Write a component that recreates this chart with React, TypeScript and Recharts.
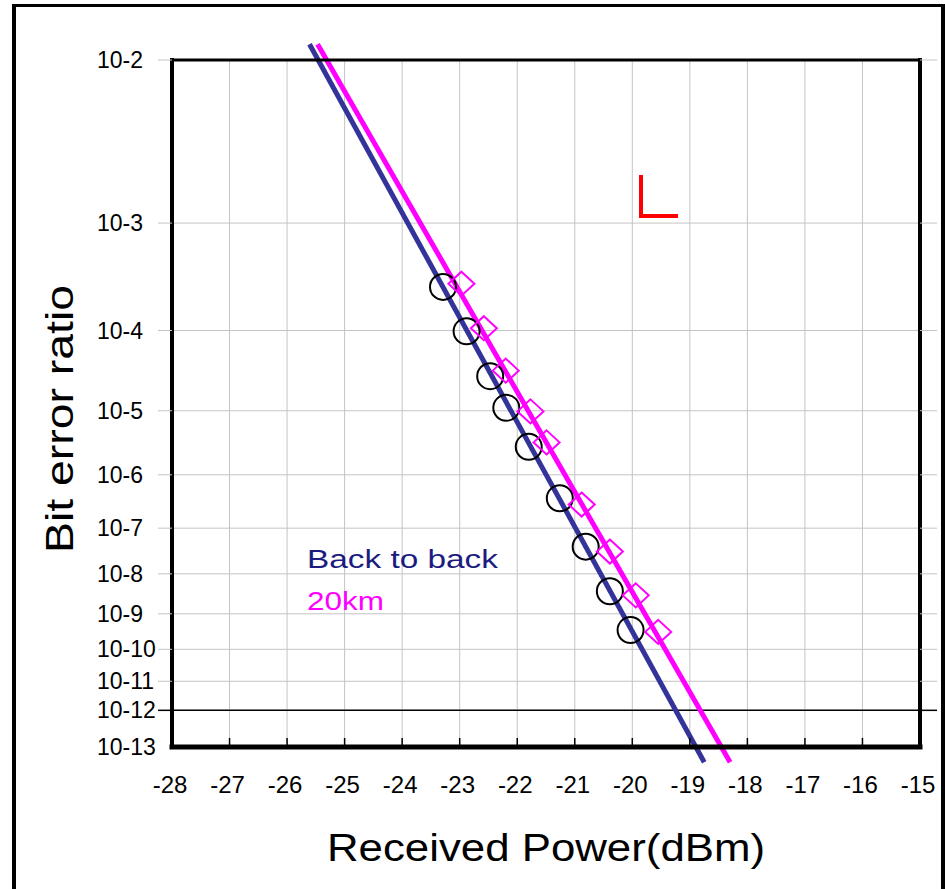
import React from 'react';
import { ComposedChart, Line, Scatter, XAxis, YAxis, CartesianGrid, ReferenceLine, Legend } from 'recharts';

// measured points: received power (dBm) and bit error ratio
const B2B_POWER = [-23.29, -22.88, -22.47, -22.19, -21.8, -21.26, -20.81, -20.39, -20.03];
const B2B_BER = [2.8e-4, 9.8e-5, 2.9e-5, 1.1e-5, 2.9e-6, 3.8e-7, 4.1e-8, 3.8e-9, 3.6e-10];
const KM20_POWER = [-22.97, -22.58, -22.2, -21.77, -21.49, -20.88, -20.39, -19.94, -19.55];
const KM20_BER = [3.0e-4, 1.06e-4, 3.4e-5, 9.8e-6, 3.4e-6, 2.9e-7, 3.2e-8, 3.0e-9, 3.2e-10];

// fitted lines (end points)
const B2B_FIT_POWER = [-25.61, -18.75];
const KM20_FIT_POWER = [-25.47, -18.3];
const FIT_BER = [1.18e-2, 9.3e-15];

const SERIES_NAMES = ['Back to back', '20km'];

const X_TICKS = [-28, -27, -26, -25, -24, -23, -22, -21, -20, -19, -18, -17, -16, -15];
const Y_TICK_EXP = [2, 3, 4, 5, 6, 7, 8, 9, 10, 11, 12];
const Y_BOTTOM_EXP = 13.4; // axis ends a bit below 10-13
const THRESHOLD_EXP = 12;

const FONT = '"Liberation Sans", Arial, Helvetica, sans-serif';
const GRID = '#c4c4c4';

// BER axis: -log10(-log10(BER) - 0.5) gives the paper's spacing
const toAxis = (ber: number) => -Math.log10(-Math.log10(ber) - 0.5);
const expOf = (v: number) => Math.round(10 ** -v + 0.5);

const Y_TICKS = [...Y_TICK_EXP, Y_BOTTOM_EXP].map((n) => toAxis(10 ** -n));
const Y_DOMAIN = [toAxis(10 ** -Y_BOTTOM_EXP), toAxis(10 ** -Y_TICK_EXP[0])];

const toPoints = (power: number[], ber: number[]) => power.map((p, i) => ({ p, v: toAxis(ber[i]) }));

const b2bPoints = toPoints(B2B_POWER, B2B_BER);
const km20Points = toPoints(KM20_POWER, KM20_BER);
const b2bFit = toPoints(B2B_FIT_POWER, FIT_BER);
const km20Fit = toPoints(KM20_FIT_POWER, FIT_BER);

const isBottom = (v: number) => Math.abs(v - Y_DOMAIN[0]) < 1e-9;

const YTick = (props: any) => {
  const { x, y, payload } = props;
  const n = expOf(payload.value);
  const dark = n === THRESHOLD_EXP;
  return (
    <g>
      {!isBottom(payload.value) && (
        <line x1={x} x2={x + 14} y1={y} y2={y} stroke={dark ? '#000' : GRID} strokeWidth={dark ? 1.5 : 1} />
      )}
      <text x={x - 61} y={y} dominantBaseline="central" fontSize={23} fontFamily={FONT} fill="#000">
        {`10-${n}`}
      </text>
    </g>
  );
};

const RightTick = (props: any) => {
  const { x, y, payload } = props;
  if (isBottom(payload.value)) return null;
  const dark = expOf(payload.value) === THRESHOLD_EXP;
  return <line x1={x - 17} x2={x} y1={y} y2={y} stroke={dark ? '#000' : GRID} strokeWidth={dark ? 1.5 : 1} />;
};

const XTick = (props: any) => {
  const { x, y, payload } = props;
  return (
    <g>
      <line x1={x} x2={x} y1={y} y2={y - 9} stroke="#000" strokeWidth={1.5} />
      <text x={x - 2} y={y + 37} textAnchor="middle" dominantBaseline="central" fontSize={24} fontFamily={FONT} fill="#000">
        {payload.value}
      </text>
    </g>
  );
};

const XTitle = (props: any) => {
  const { x, y, width } = props.viewBox;
  const len = 438;
  return (
    <text x={x + width / 2 - len / 2} y={y + 114} fontSize={38} fontFamily={FONT} fill="#000"
      textLength={len} lengthAdjust="spacingAndGlyphs">
      Received Power(dBm)
    </text>
  );
};

const YTitle = (props: any) => {
  const { x, y, height } = props.viewBox;
  const cx = x + 60;
  const cy = y + height / 2 + 15.5;
  const len = 268;
  return (
    <text x={cx - len / 2} y={cy} dominantBaseline="central" transform={`rotate(-90 ${cx} ${cy})`}
      fontSize={38} fontFamily={FONT} fill="#000" textLength={len} lengthAdjust="spacingAndGlyphs">
      Bit error ratio
    </text>
  );
};

const LEGEND_TEXT = {
  'Back to back': { color: '#1c1c80', len: 191, y: 28 },
  '20km': { color: '#ff00ff', len: 77, y: 70 },
} as Record<string, { color: string; len: number; y: number }>;

const LegendBox = (props: any) => {
  const items = (props.payload || []).filter((e: any) => e.type !== 'none' && LEGEND_TEXT[e.value]);
  return (
    <svg width={240} height={80} style={{ display: 'block' }}>
      {items.map((e: any) => {
        const s = LEGEND_TEXT[e.value];
        return (
          <text key={e.value} x={7} y={s.y} fontSize={25} fontFamily={FONT} fill={s.color}
            textLength={s.len} lengthAdjust="spacingAndGlyphs">
            {e.value}
          </text>
        );
      })}
    </svg>
  );
};

const Circle = (props: any) => (
  <circle cx={props.cx} cy={props.cy} r={13} fill="none" stroke="#000" strokeWidth={2} />
);

const Diamond = (props: any) => {
  const { cx, cy } = props;
  return (
    <polygon points={`${cx},${cy - 12} ${cx + 13},${cy} ${cx},${cy + 12} ${cx - 13},${cy}`}
      fill="none" stroke="#ff00ff" strokeWidth={2} />
  );
};

export default function App() {
  return (
    <div style={{ position: 'absolute', left: 0, top: 0, width: 945, height: 889, background: '#fff', overflow: 'hidden' }}>
      <style>{`.recharts-line [clip-path], .recharts-line[clip-path], .recharts-line-curve { clip-path: none !important; }`}</style>
      <div style={{
        position: 'absolute', left: 12, top: 4, width: 933, height: 900, boxSizing: 'border-box',
        borderLeft: '4px solid #000', borderTop: '3px solid #000', borderRight: '4px solid #000',
      }} />
      <div style={{ position: 'absolute', left: 0, top: 0 }}>
        <ComposedChart width={945} height={889} margin={{ top: 0, right: 0, bottom: 0, left: 0 }}>
          <CartesianGrid xAxisId="main" yAxisId="left" stroke={GRID} strokeWidth={1} />
          <XAxis xAxisId="main" dataKey="p" type="number" domain={[-28, -15]} ticks={X_TICKS} interval={0}
            allowDataOverflow height={142} tickSize={0} tickMargin={0} tickLine={false} tick={<XTick />}
            axisLine={{ stroke: '#000', strokeWidth: 5, strokeLinecap: 'square' }} label={{ content: XTitle }} />
          <XAxis xAxisId="top" orientation="top" type="number" domain={[-28, -15]} allowDataOverflow height={60}
            tick={false} tickLine={false} axisLine={{ stroke: '#000', strokeWidth: 3, strokeLinecap: 'square' }} />
          <YAxis yAxisId="left" type="number" domain={Y_DOMAIN} ticks={Y_TICKS} interval={0} allowDataOverflow
            width={172} tickSize={14} tickMargin={0} tickLine={false} tick={<YTick />}
            axisLine={{ stroke: '#000', strokeWidth: 4, strokeLinecap: 'square' }} label={{ content: YTitle }} />
          <YAxis yAxisId="right" orientation="right" type="number" domain={Y_DOMAIN} ticks={Y_TICKS} interval={0}
            allowDataOverflow width={25} tickSize={17} tickMargin={0} tickLine={false} tick={<RightTick />}
            axisLine={{ stroke: '#000', strokeWidth: 4, strokeLinecap: 'square' }} />
          <ReferenceLine xAxisId="main" yAxisId="left" y={toAxis(10 ** -THRESHOLD_EXP)} stroke="#000" strokeWidth={1.5} />
          <Line xAxisId="main" yAxisId="left" data={b2bFit} dataKey="v" name={SERIES_NAMES[0]} type="linear"
            stroke="#333399" strokeWidth={5} dot={false} isAnimationActive={false} />
          <Line xAxisId="main" yAxisId="left" data={km20Fit} dataKey="v" name={SERIES_NAMES[1]} type="linear"
            stroke="#ff00ff" strokeWidth={5} dot={false} isAnimationActive={false} />
          <Scatter xAxisId="main" yAxisId="left" data={b2bPoints} dataKey="v" legendType="none"
            shape={Circle} isAnimationActive={false} />
          <Scatter xAxisId="main" yAxisId="left" data={km20Points} dataKey="v" legendType="none"
            shape={Diamond} isAnimationActive={false} />
          <Legend layout="horizontal" verticalAlign="middle" align="center" content={LegendBox}
            wrapperStyle={{ left: 300, top: 540, width: 240, height: 80 }} />
        </ComposedChart>
      </div>
      <div style={{
        position: 'absolute', left: 639, top: 175, width: 39, height: 43, boxSizing: 'border-box',
        borderLeft: '4px solid #ff0000', borderBottom: '4px solid #ff0000',
      }} />
    </div>
  );
}
